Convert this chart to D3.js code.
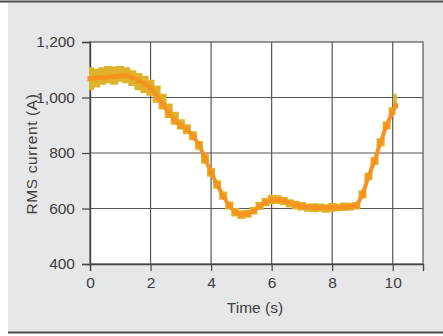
<!DOCTYPE html>
<html>
<head>
<meta charset="utf-8">
<script src="https://cdn.jsdelivr.net/npm/d3@7"></script>
<style>
  body { margin: 0; background: #fff; }
  text { font-family: "Liberation Sans", Arial, sans-serif; fill: #3d3d3d; }
</style>
</head>
<body>
<div id="chart"></div>
<script>
// time samples (s)
const times = [0.0, 0.2, 0.4, 0.6, 0.8, 1.0, 1.2, 1.4, 1.6, 1.8,
  2.0, 2.2, 2.4, 2.6, 2.8, 3.0, 3.2, 3.4, 3.6, 3.8,
  4.0, 4.2, 4.4, 4.6, 4.8, 5.0, 5.2, 5.4, 5.6, 5.8,
  6.0, 6.2, 6.4, 6.6, 6.8, 7.0, 7.2, 7.4, 7.6, 7.8,
  8.0, 8.2, 8.4, 8.6, 8.8, 9.0, 9.2, 9.4, 9.6, 9.8,
  10.0, 10.1];

// raw measured RMS current, lower edge of the noisy trace (A)
const rawLow = [1030, 1040, 1050, 1055, 1050, 1060, 1055, 1045, 1030, 1020,
  1010, 985, 960, 930, 905, 888, 872, 850, 815, 765,
  718, 675, 635, 600, 575, 566, 570, 582, 598, 612,
  620, 620, 615, 607, 600, 596, 592, 590, 592, 588,
  592, 594, 595, 596, 600, 640, 705, 760, 828, 888,
  940, 962];

// raw measured RMS current, upper edge of the noisy trace (A)
const rawHigh = [1105, 1100, 1105, 1110, 1108, 1110, 1105, 1095, 1085, 1075,
  1060, 1040, 1010, 975, 945, 918, 900, 875, 840, 795,
  742, 698, 658, 622, 598, 590, 592, 602, 620, 634,
  645, 644, 638, 630, 624, 620, 614, 615, 614, 612,
  616, 614, 618, 617, 620, 662, 725, 782, 850, 910,
  962, 1010];

// smoothed RMS current (A)
const smoothCurrent = [1068, 1070, 1072, 1073, 1076, 1078, 1078, 1072, 1062, 1050,
  1035, 1005, 975, 945, 918, 898, 885, 862, 830, 780,
  730, 685, 645, 610, 586, 578, 580, 590, 608, 622,
  630, 632, 628, 620, 613, 608, 605, 604, 603, 603,
  603, 604, 605, 606, 610, 650, 715, 772, 840, 900,
  950, 970];

const xTicks = [0, 2, 4, 6, 8, 10];
const yTicks = [400, 600, 800, 1000, 1200];

const width = 443, height = 336;
const margin = { top: 42, right: 20, bottom: 72, left: 90 };

const svg = d3.select("#chart")
  .append("svg")
  .attr("width", width)
  .attr("height", height);

// panel background + rules
svg.append("rect")
  .attr("x", 8).attr("y", 2)
  .attr("width", width - 8).attr("height", 330)
  .attr("fill", "#e6e7e8");
svg.append("line")
  .attr("x1", 0).attr("x2", width).attr("y1", 1.5).attr("y2", 1.5)
  .attr("stroke", "#4a4a4a").attr("stroke-width", 2);
svg.append("line")
  .attr("x1", 8).attr("x2", width).attr("y1", 332.5).attr("y2", 332.5)
  .attr("stroke", "#4a4a4a").attr("stroke-width", 2);

const x = d3.scaleLinear()
  .domain([0, 11])
  .range([margin.left, width - margin.right]);

const y = d3.scaleLinear()
  .domain([400, 1200])
  .range([height - margin.bottom, margin.top]);

svg.append("rect")
  .attr("x", x(0)).attr("y", y(1200))
  .attr("width", x(11) - x(0)).attr("height", y(400) - y(1200))
  .attr("fill", "#fff")
  .attr("stroke", "#555")
  .attr("stroke-width", 1.2);

// grid
svg.append("g")
  .selectAll("line")
  .data(xTicks.slice(1))
  .join("line")
  .attr("x1", d => x(d)).attr("x2", d => x(d))
  .attr("y1", y(1200)).attr("y2", y(400))
  .attr("stroke", "#555").attr("stroke-width", 1.2);

svg.append("g")
  .selectAll("line")
  .data(yTicks.slice(1, -1))
  .join("line")
  .attr("x1", x(0)).attr("x2", x(11))
  .attr("y1", d => y(d)).attr("y2", d => y(d))
  .attr("stroke", "#555").attr("stroke-width", 1.2);

// axes
const xAxis = svg.append("g")
  .attr("transform", `translate(0,${y(400)})`)
  .call(d3.axisBottom(x).tickValues(xTicks).tickSize(7).tickPadding(6).tickFormat(d3.format("d")));
const yAxis = svg.append("g")
  .attr("transform", `translate(${x(0)},0)`)
  .call(d3.axisLeft(y).tickValues(yTicks).tickSize(8).tickPadding(7).tickFormat(d3.format(",")));

[xAxis, yAxis].forEach(a => {
  a.select(".domain").attr("stroke", "#444").attr("stroke-width", 1.4);
  a.selectAll(".tick line").attr("stroke", "#444").attr("stroke-width", 1.2);
  a.selectAll(".tick text").style("font-size", "15.5px").attr("fill", "#3d3d3d");
});

svg.append("text")
  .attr("x", x(5.45))
  .attr("y", 313)
  .attr("text-anchor", "middle")
  .style("font-size", "15.5px")
  .text("Time (s)");

svg.append("text")
  .attr("transform", `translate(37,${154}) rotate(-90)`)
  .attr("text-anchor", "middle")
  .style("font-size", "15.5px")
  .style("letter-spacing", "0.6px")
  .text("RMS current (A)");

// data
const raw = times.map((t, i) => ({ t: t, lo: rawLow[i], hi: rawHigh[i] }));
const smooth = times.map((t, i) => ({ t: t, v: smoothCurrent[i] }));

svg.append("path")
  .datum(raw)
  .attr("fill", "#dfb22b")
  .attr("stroke", "#dfb22b")
  .attr("stroke-width", 2)
  .attr("d", d3.area().x(d => x(d.t)).y0(d => y(d.lo)).y1(d => y(d.hi)).curve(d3.curveStep));

svg.append("path")
  .datum(smooth)
  .attr("fill", "none")
  .attr("stroke", "#f7921e")
  .attr("stroke-width", 4)
  .attr("d", d3.line().x(d => x(d.t)).y(d => y(d.v)));

svg.append("g")
  .selectAll("rect")
  .data(smooth)
  .join("rect")
  .attr("x", d => x(d.t) - 2.5)
  .attr("y", d => y(d.v) - 2.5)
  .attr("width", 5)
  .attr("height", 5)
  .attr("fill", "#f7921e");
</script>
</body>
</html>
